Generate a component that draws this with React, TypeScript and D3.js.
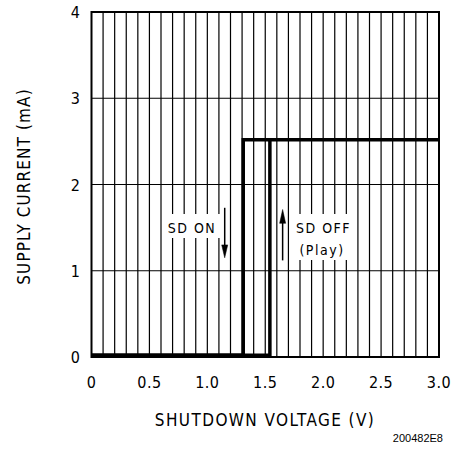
import React from "react";
import * as d3 from "d3";

// axis ticks
const voltTicks = [0, 0.5, 1.0, 1.5, 2.0, 2.5, 3.0];
const voltLabels = ["0", "0.5", "1.0", "1.5", "2.0", "2.5", "3.0"];
const currTicks = [0, 1, 2, 3, 4];
const currLabels = ["0", "1", "2", "3", "4"];
const voltGrid = d3.range(1, 30).map((i) => i / 10);

// hysteresis curves (V, mA)
const sdOnV = [0, 1.31, 1.31, 3.0];
const sdOnI = [0.02, 0.02, 2.52, 2.52];
const sdOffV = [0, 1.54, 1.54];
const sdOffI = [0.02, 0.02, 2.52];

const W = 463;
const H = 457;
const m = { left: 91.5, right: 24, top: 12, bottom: 100 };
const FONT = "'DejaVu Sans Condensed', 'DejaVu Sans', sans-serif";

export default function App() {
  const x = d3.scaleLinear().domain([0, 3]).range([m.left, W - m.right]);
  const y = d3.scaleLinear().domain([0, 4]).range([H - m.bottom, m.top]);

  const line = d3
    .line<[number, number]>()
    .x((d) => x(d[0]))
    .y((d) => y(d[1]));

  const onPts = sdOnV.map((v, i) => [v, sdOnI[i]] as [number, number]);
  const offPts = sdOffV.map((v, i) => [v, sdOffI[i]] as [number, number]);

  // arrows
  const onArrowX = x(1.15);
  const offArrowX = x(1.65);

  return (
    <svg
      width={W}
      height={H}
      style={{ position: "absolute", left: 0, top: 0, background: "#fff" }}
    >
      <g stroke="#000" strokeWidth={1.2}>
        {voltGrid.map((v) => (
          <line key={"v" + v} x1={x(v)} x2={x(v)} y1={y(0)} y2={y(4)} />
        ))}
        {[1, 2, 3].map((c) => (
          <line key={"h" + c} x1={x(0)} x2={x(3)} y1={y(c)} y2={y(c)} />
        ))}
      </g>
      <rect
        x={x(0)}
        y={y(4)}
        width={x(3) - x(0)}
        height={y(0) - y(4)}
        fill="none"
        stroke="#000"
        strokeWidth={2}
      />

      {/* annotation backgrounds */}
      <rect x={164} y={214} width={56} height={24} fill="#fff" />
      <rect x={onArrowX - 3} y={y(1.75)} width={6} height={y(1.12) - y(1.75)} fill="#fff" />
      <rect x={offArrowX - 3} y={y(1.75)} width={6} height={y(1.1) - y(1.75)} fill="#fff" />
      <rect x={292} y={214} width={60} height={46} fill="#fff" />

      <path d={line(onPts) ?? ""} fill="none" stroke="#000" strokeWidth={3.5} />
      <path d={line(offPts) ?? ""} fill="none" stroke="#000" strokeWidth={3.5} />

      <g stroke="#000" strokeWidth={1.5} fill="#000">
        <line x1={onArrowX} x2={onArrowX} y1={y(1.73)} y2={y(1.2)} />
        <path
          d={`M${onArrowX - 3},${y(1.3)} L${onArrowX + 3},${y(1.3)} L${onArrowX},${y(1.15)} Z`}
          strokeWidth={0.5}
        />
        <line x1={offArrowX} x2={offArrowX} y1={y(1.12)} y2={y(1.65)} />
        <path
          d={`M${offArrowX - 3},${y(1.55)} L${offArrowX + 3},${y(1.55)} L${offArrowX},${y(1.71)} Z`}
          strokeWidth={0.5}
        />
      </g>

      <g fontFamily={FONT} fontSize={14} fill="#000" letterSpacing={1.5}>
        <text x={192} y={233} textAnchor="middle">SD ON</text>
        <text x={296} y={233}>SD OFF</text>
        <text x={322} y={255} textAnchor="middle">(Play)</text>
      </g>

      <g fontFamily={FONT} fontSize={16} fill="#000">
        {voltTicks.map((v, i) => (
          <text key={v} x={x(v)} y={388} textAnchor="middle" letterSpacing={0.5}>
            {voltLabels[i]}
          </text>
        ))}
        {currTicks.map((c, i) => (
          <text key={c} x={80} y={y(c) + 6} textAnchor="end">
            {currLabels[i]}
          </text>
        ))}
        <text x={265} y={426} textAnchor="middle" fontSize={17} letterSpacing={1.4}>
          SHUTDOWN VOLTAGE (V)
        </text>
        <text
          transform={`translate(30,${y(2) + 2}) rotate(-90)`}
          textAnchor="middle"
          fontSize={17}
          letterSpacing={1.1}
        >
          SUPPLY CURRENT (mA)
        </text>
      </g>
      <text
        x={443}
        y={442}
        textAnchor="end"
        fontFamily="'Liberation Sans', Arial, sans-serif"
        fontSize={11}
      >
        200482E8
      </text>
    </svg>
  );
}
